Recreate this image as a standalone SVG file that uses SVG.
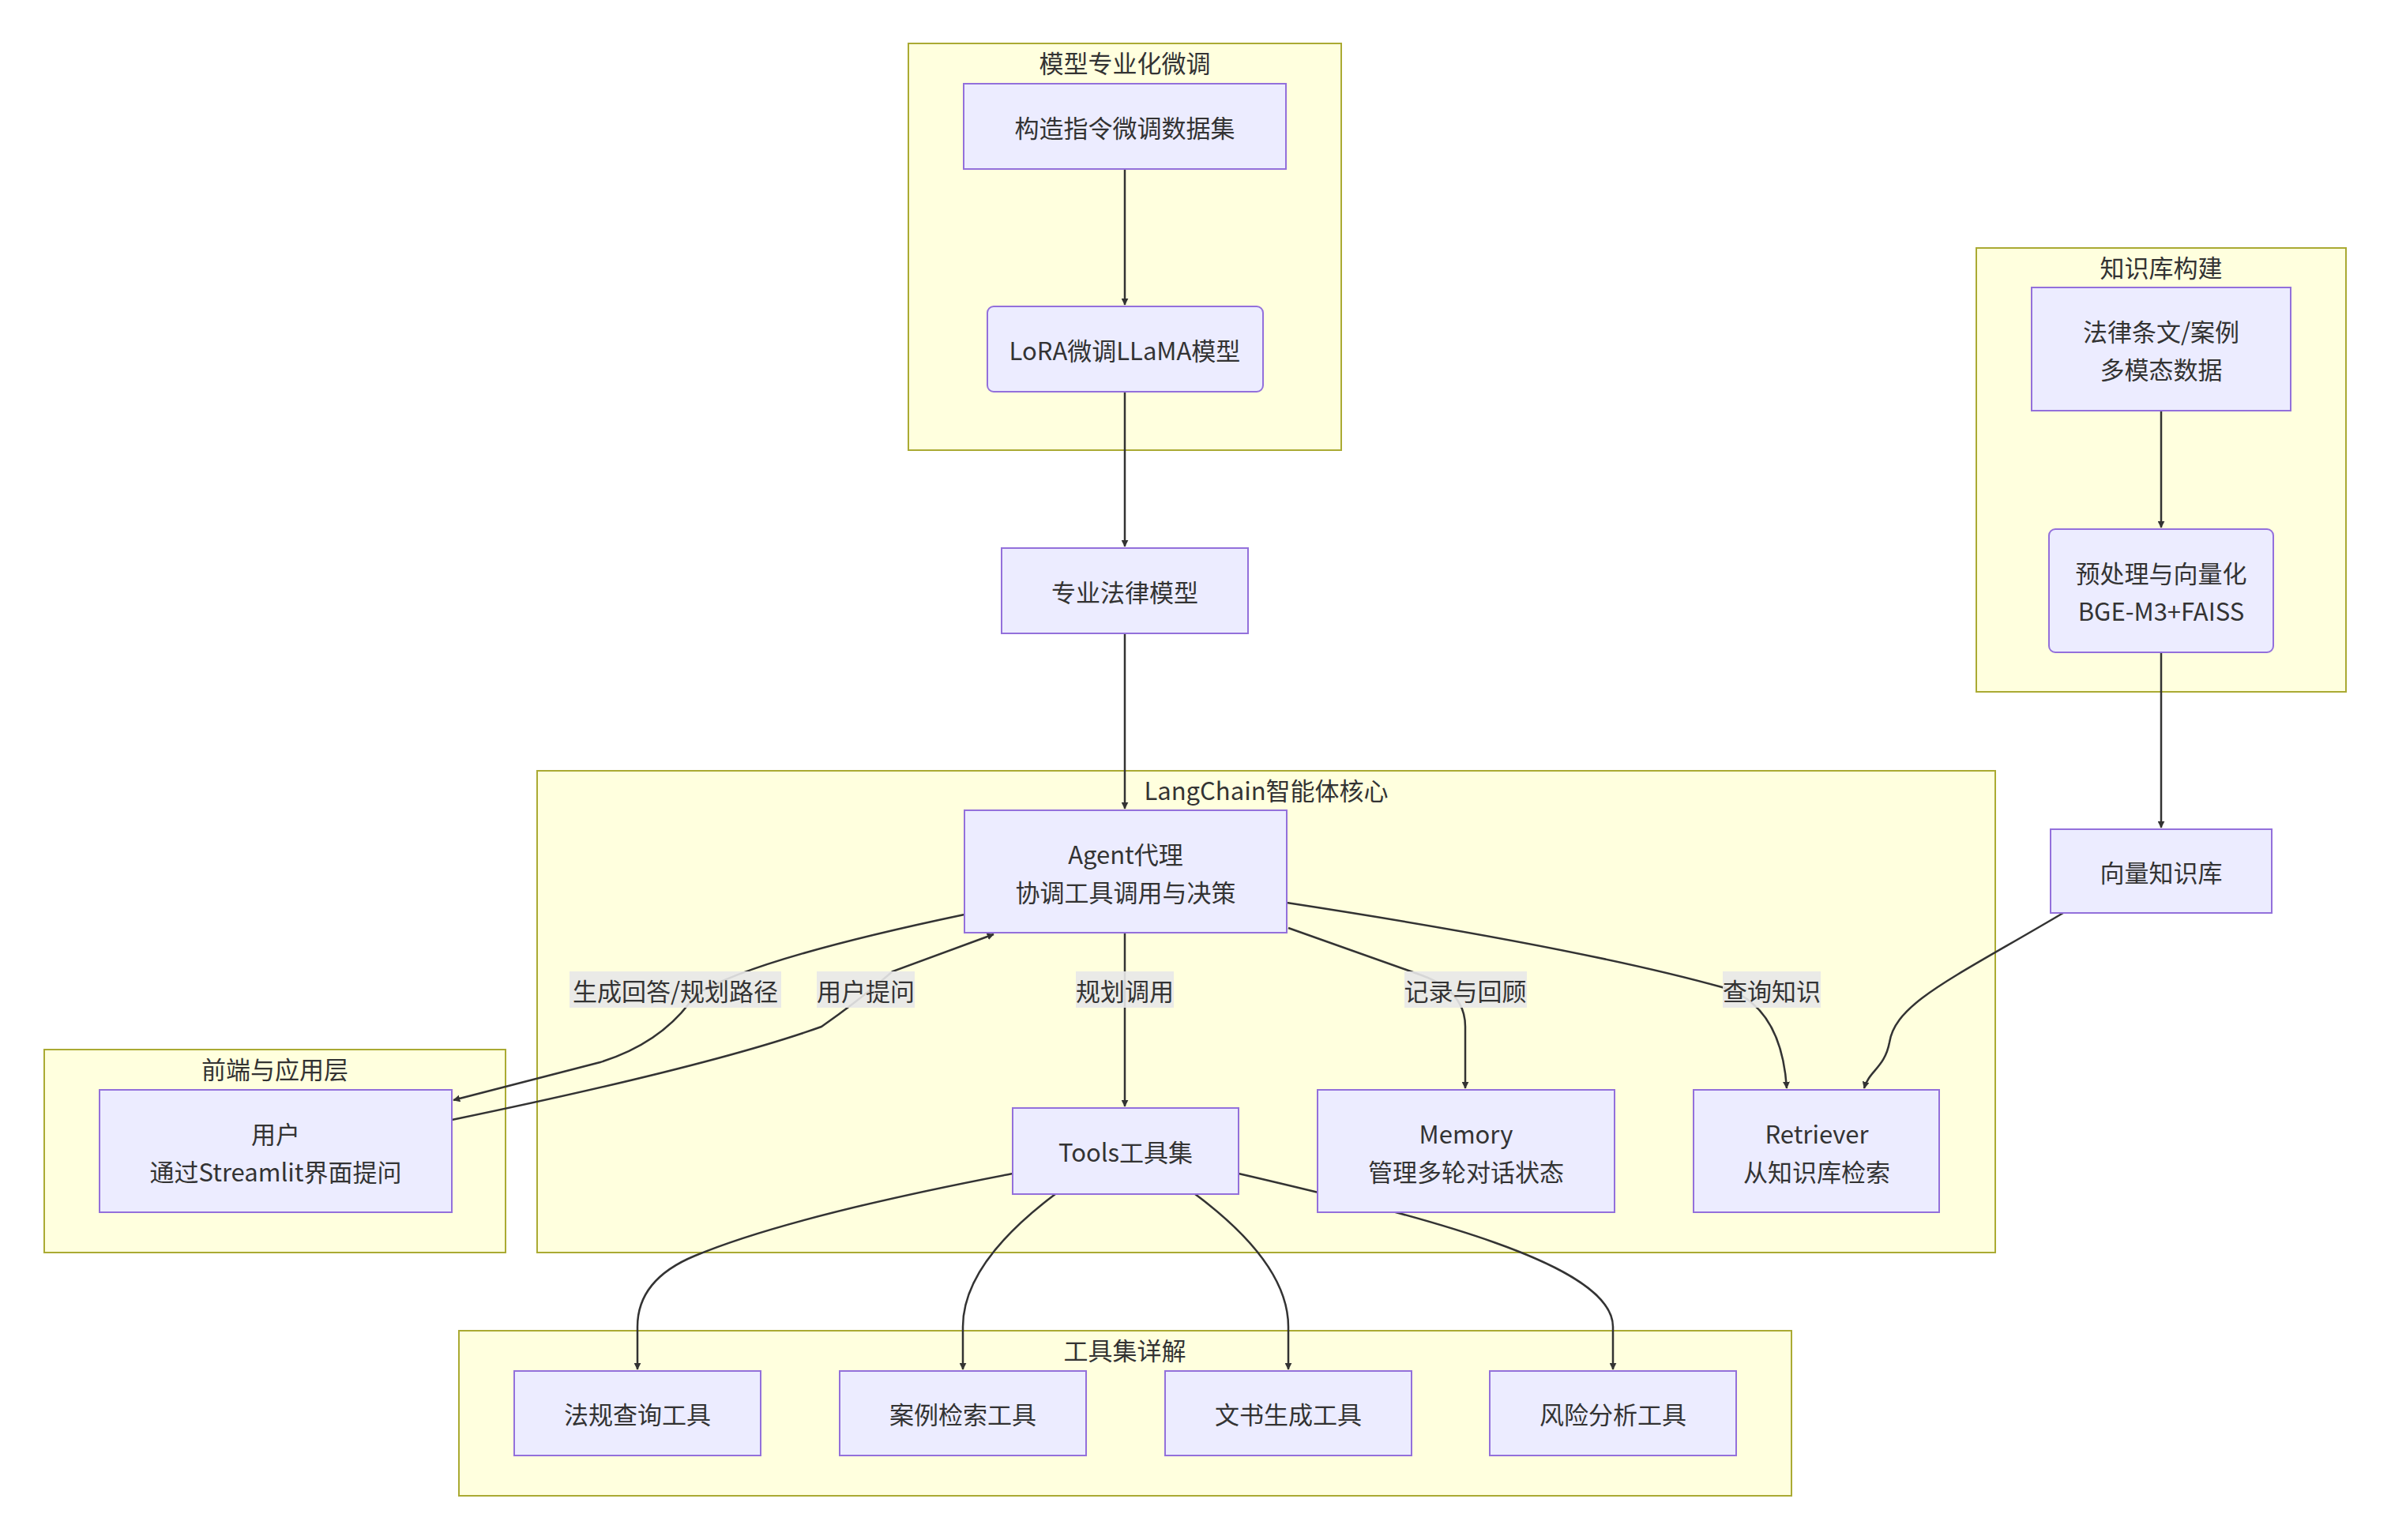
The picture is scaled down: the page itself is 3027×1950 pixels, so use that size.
<svg xmlns="http://www.w3.org/2000/svg" width="3027" height="1950" viewBox="0 0 3027 1950">
<style>
text{font-family:"Noto Sans CJK SC","Noto Sans",sans-serif;font-size:31px;fill:#333;text-anchor:middle;dominant-baseline:central}
.c{fill:#FFFFDE;stroke:#AAAA33;stroke-width:2}
.n{fill:#ECECFF;stroke:#9370DB;stroke-width:2}
.e{fill:none;stroke:#333;stroke-width:2.5;marker-end:url(#a)}
.lb{fill:#E8E8E8;opacity:0.9}
</style>
<defs><marker id="a" viewBox="0 0 12 12" refX="11" refY="6" markerWidth="9" markerHeight="9" orient="auto" markerUnits="userSpaceOnUse"><path d="M0,0L12,6L0,12z" fill="#333"/></marker></defs>
<rect width="3027" height="1950" fill="#fff"/>
<g id="clusters">
<rect class="c" x="1150" y="55" width="548" height="515"/><text x="1424" y="78">模型专业化微调</text>
<rect class="c" x="2502" y="314" width="468" height="562"/><text x="2736" y="337">知识库构建</text>
<rect class="c" x="680" y="976" width="1846" height="610"/><text x="1603" y="999">LangChain智能体核心</text>
<rect class="c" x="56" y="1329" width="584" height="257"/><text x="348" y="1352">前端与应用层</text>
<rect class="c" x="581" y="1685" width="1687" height="209"/><text x="1424" y="1708">工具集详解</text>
</g>
<g id="edges">
<path class="e" d="M1424,214L1424,386"/>
<path class="e" d="M1424,496L1424,692"/>
<path class="e" d="M1424,802L1424,1024"/>
<path class="e" d="M2736,520L2736,668"/>
<path class="e" d="M2736,826L2736,1048"/>
<path class="e" d="M2612,1156C2470,1240 2400,1270 2392,1320C2386,1352 2366,1356 2360,1378"/>
<path class="e" d="M1629,1143Q2000,1200 2180,1250Q2255,1272 2262,1378"/>
<path class="e" d="M1631,1175L1800,1235Q1855,1255 1855,1300L1855,1378"/>
<path class="e" d="M1424,1181L1424,1401"/>
<path class="e" d="M1221,1158Q950,1215 880,1260Q840,1320 760,1345L574,1393"/>
<path class="e" d="M572,1418Q900,1350 1040,1300Q1090,1265 1130,1230L1258,1183"/>
<path class="e" d="M1282,1486Q1000,1540 880,1590Q807,1620 807,1680L807,1734"/>
<path class="e" d="M1336,1512Q1219,1600 1219,1680L1219,1734"/>
<path class="e" d="M1513,1512Q1631,1600 1631,1680L1631,1734"/>
<path class="e" d="M1568,1486C1800,1540 2042,1600 2042,1680L2042,1734"/>
<rect class="lb" x="721" y="1230" width="268" height="46"/><text x="855" y="1253">生成回答/规划路径</text>
<rect class="lb" x="1034" y="1230" width="124" height="46"/><text x="1096" y="1253">用户提问</text>
<rect class="lb" x="1362" y="1230" width="124" height="46"/><text x="1424" y="1253">规划调用</text>
<rect class="lb" x="1778" y="1230" width="155" height="46"/><text x="1855" y="1253">记录与回顾</text>
<rect class="lb" x="2181" y="1230" width="124" height="46"/><text x="2243" y="1253">查询知识</text>
</g>
<g id="n1"><rect class="n" x="1220" y="106" width="408" height="108"/><text x="1424" y="160">构造指令微调数据集</text></g>
<g id="n2"><rect class="n" x="1250" y="388" width="349" height="108" rx="8"/><text x="1424" y="442">LoRA微调LLaMA模型</text></g>
<g id="n3"><rect class="n" x="1268" y="694" width="312" height="108"/><text x="1424" y="748">专业法律模型</text></g>
<g id="n4"><rect class="n" x="2572" y="364" width="328" height="156"/><text x="2736" y="418">法律条文/案例</text><text x="2736" y="466">多模态数据</text></g>
<g id="n5"><rect class="n" x="2594" y="670" width="284" height="156" rx="8"/><text x="2736" y="724">预处理与向量化</text><text x="2736" y="772">BGE-M3+FAISS</text></g>
<g id="n6"><rect class="n" x="2596" y="1050" width="280" height="106"/><text x="2736" y="1103">向量知识库</text></g>
<g id="n7"><rect class="n" x="1221" y="1026" width="408" height="155"/><text x="1425" y="1080">Agent代理</text><text x="1425" y="1128">协调工具调用与决策</text></g>
<g id="n8"><rect class="n" x="126" y="1380" width="446" height="155"/><text x="349" y="1434">用户</text><text x="349" y="1482">通过Streamlit界面提问</text></g>
<g id="n9"><rect class="n" x="1282" y="1403" width="286" height="109"/><text x="1425" y="1457">Tools工具集</text></g>
<g id="n10"><rect class="n" x="1668" y="1380" width="376" height="155"/><text x="1856" y="1434">Memory</text><text x="1856" y="1482">管理多轮对话状态</text></g>
<g id="n11"><rect class="n" x="2144" y="1380" width="311" height="155"/><text x="2300" y="1434">Retriever</text><text x="2300" y="1482">从知识库检索</text></g>
<g id="n12"><rect class="n" x="651" y="1736" width="312" height="107"/><text x="807" y="1789">法规查询工具</text></g>
<g id="n13"><rect class="n" x="1063" y="1736" width="312" height="107"/><text x="1219" y="1789">案例检索工具</text></g>
<g id="n14"><rect class="n" x="1475" y="1736" width="312" height="107"/><text x="1631" y="1789">文书生成工具</text></g>
<g id="n15"><rect class="n" x="1886" y="1736" width="312" height="107"/><text x="2042" y="1789">风险分析工具</text></g>
</svg>
